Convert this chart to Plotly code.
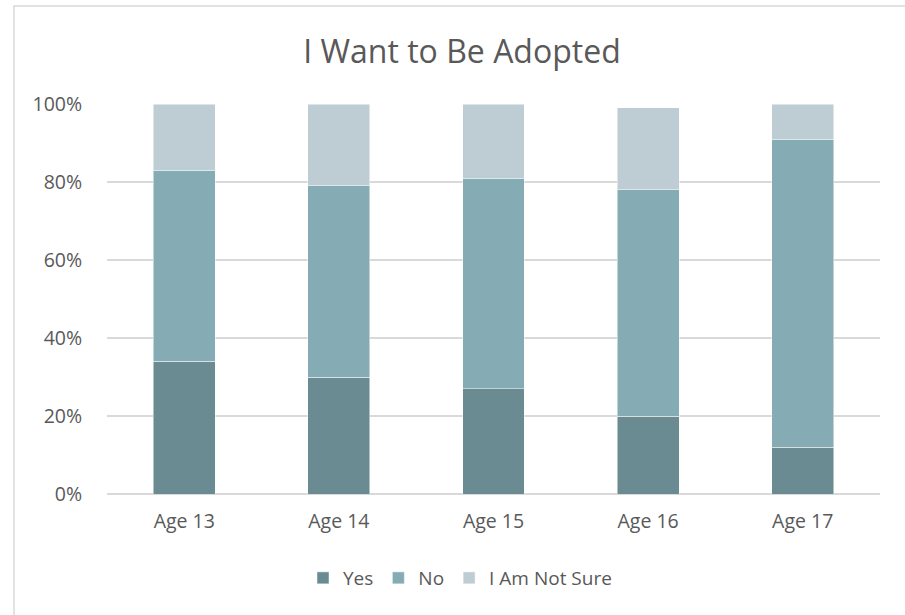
import plotly.graph_objects as go

categories = ["Age 13", "Age 14", "Age 15", "Age 16", "Age 17"]
yes_vals = [34, 30, 27, 20, 12]
no_vals = [49, 49, 54, 58, 79]
not_sure_vals = [17, 21, 19, 21, 9]
tick_vals = [0, 20, 40, 60, 80, 100]
tick_text = ["0%", "20%", "40%", "60%", "80%", "100%"]

series = [
    ("Yes", yes_vals, "#6B8B93"),
    ("No", no_vals, "#85ABB5"),
    ("I Am Not Sure", not_sure_vals, "#BECDD4"),
]

fig = go.Figure()
for name, vals, color in series:
    fig.add_trace(go.Bar(
        x=categories, y=vals, name=name,
        marker=dict(color=color, line=dict(color="rgba(255,255,255,0.6)", width=0.8)),
    ))

W, H = 905, 615
L, R, T, B = 107, 25, 104, 121
pw, ph = W - L - R, H - T - B

def px_x(x):
    return (x - L) / pw

def px_y(y):
    return (H - B - y) / ph

font_family = "Open Sans, Liberation Sans, sans-serif"
gray = "#595959"

fig.update_layout(
    width=W, height=H,
    margin=dict(l=L, r=R, t=T, b=B, autoexpand=False),
    barmode="stack", bargap=0.6,
    plot_bgcolor="white", paper_bgcolor="white",
    font=dict(family=font_family, color=gray, size=20),
    title=dict(text="I Want to Be Adopted", x=462 / W, xref="container", xanchor="center",
               y=1 - 52 / H, yref="container", yanchor="middle",
               font=dict(size=32, color=gray, family=font_family)),
    xaxis=dict(showgrid=False, showline=False, ticks="outside", ticklen=10,
               tickcolor="rgba(0,0,0,0)", tickfont=dict(size=19.5, color=gray)),
    yaxis=dict(range=[0, 100], tickvals=tick_vals, ticktext=tick_text,
               showgrid=True, gridcolor="#D9D9D9", gridwidth=1.6,
               zeroline=True, zerolinecolor="#D9D9D9", zerolinewidth=1.6,
               showline=False, ticks="outside", ticklen=20, tickcolor="rgba(0,0,0,0)",
               tickfont=dict(size=19.5, color=gray)),
    legend=dict(orientation="h", x=px_x(460), xanchor="center", y=px_y(578), yanchor="middle",
                font=dict(size=19, color=gray), traceorder="normal", itemwidth=30,
                tracegroupgap=0),
    showlegend=True,
)

fig.add_shape(type="rect", xref="paper", yref="paper",
              x0=px_x(14), x1=px_x(W + 20), y0=px_y(H + 20), y1=px_y(6),
              line=dict(color="#D9D9D9", width=1.5), fillcolor="rgba(0,0,0,0)", layer="below")

fig.write_html("out.html", config={"displayModeBar": False},
               post_script="document.body.style.margin='0';")
